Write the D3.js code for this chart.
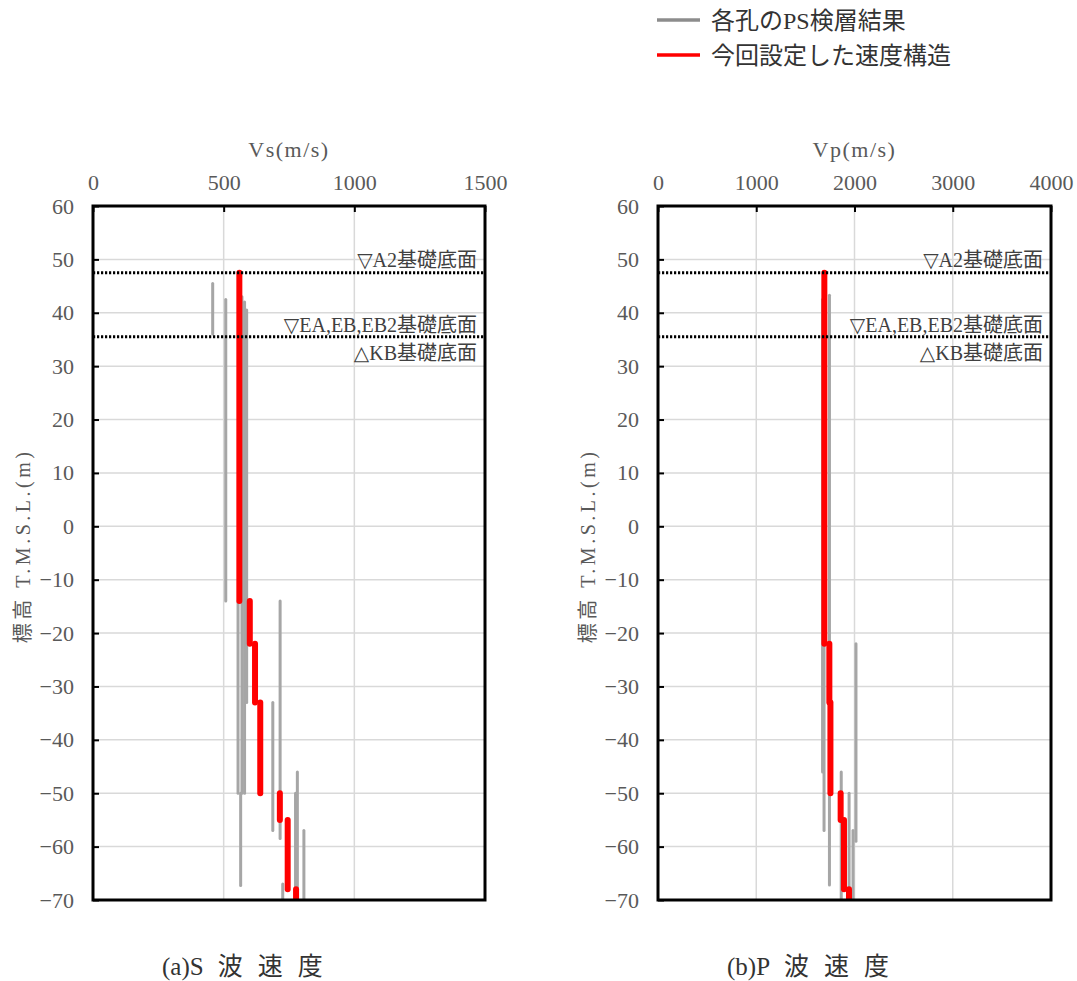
<!DOCTYPE html>
<html><head><meta charset="utf-8">
<script src="https://cdn.jsdelivr.net/npm/d3@7"></script>
<style>
body{margin:0;background:#fff;}
text{font-family:"Liberation Serif","DejaVu Serif","Noto Sans CJK JP",serif;}
</style></head>
<body>
<script>
// ---- data ----
const depthTicks = [60,50,40,30,20,10,0,-10,-20,-30,-40,-50,-60,-70];
const vsTicks = [0,500,1000,1500];
const vpTicks = [0,1000,2000,3000,4000];

// model (red) step profiles: velocity per layer, layer boundaries (elevation)
const vsModelVel = [560,600,620,640,715,745,777];
const vsModelBounds = [47.5,-14,-22,-33,-50,-55,-68,-70];
const vpModelVel = [1693,1744,1755,1859,1893,1944];
const vpModelBounds = [47.5,-22,-33,-50,-55,-68,-70];

// PS logging results (gray) : velocity, top, bottom
const vsLogVel = [458,508,555,570,580,588,565,688,716,726,775,782,807];
const vsLogTop = [45.5,42.5,-14,43,42,40.5,-50,-33,-14,-67,-50,-46,-57];
const vsLogBot = [36,-14,-50,-50,-50,-33,-67.3,-57,-58.5,-70,-70,-70,-70];
const vpLogVel = [1675,1690,1745,2015,1865,1945,1985];
const vpLogTop = [42.5,-22,43.3,-22,-46,-50,-57];
const vpLogBot = [-46,-57,-67.2,-59,-70,-70,-70];

const refLevels = [47.5,35.5];
const legendLabels = ["各孔のPS検層結果","今回設定した速度構造"];

// ---- drawing ----
const W=1077,H=981;
const svg=d3.select("body").append("svg").attr("width",W).attr("height",H);
svg.append("rect").attr("width",W).attr("height",H).attr("fill","#fff");

const pTop=206,pBot=900;
const y=d3.scaleLinear().domain([60,-70]).range([pTop,pBot]);

function panel(cfg){
  const x=d3.scaleLinear().domain([0,cfg.max]).range([cfg.left,cfg.right]);
  const g=svg.append("g");
  const clipId="clip"+cfg.id;
  svg.append("defs").append("clipPath").attr("id",clipId)
    .append("rect").attr("x",cfg.left).attr("y",pTop).attr("width",cfg.right-cfg.left).attr("height",pBot-pTop);
  // grid
  g.selectAll(".vg").data(cfg.ticks.slice(1,-1)).join("line")
    .attr("x1",d=>x(d)).attr("x2",d=>x(d)).attr("y1",pTop).attr("y2",pBot)
    .attr("stroke","#d9d9d9").attr("stroke-width",1.5);
  g.selectAll(".hg").data(depthTicks.slice(1,-1)).join("line")
    .attr("x1",cfg.left).attr("x2",cfg.right).attr("y1",d=>y(d)).attr("y2",d=>y(d))
    .attr("stroke","#d9d9d9").attr("stroke-width",1.5);
  // axes (ticks inward)
  const xa=d3.axisTop(x).tickValues(cfg.ticks).tickSize(-6).tickPadding(16).tickFormat(d3.format("d"));
  const ga=g.append("g").attr("transform",`translate(0,${pTop})`).call(xa);
  ga.select(".domain").remove();
  ga.selectAll("line").attr("stroke","#000").attr("stroke-width",2);
  ga.selectAll("text").attr("font-size",22).attr("fill","#595959").attr("dy","0");
  const ya=d3.axisLeft(y).tickValues(depthTicks).tickSize(-6).tickPadding(19);
  const gy=g.append("g").attr("transform",`translate(${cfg.left},0)`).call(ya);
  gy.select(".domain").remove();
  gy.selectAll("line").attr("stroke","#000").attr("stroke-width",2);
  gy.selectAll("text").attr("font-size",22).attr("fill","#595959").text(d=>d<0?"−"+Math.abs(d):d);
  // axis title
  g.append("text").attr("x",(cfg.left+cfg.right)/2).attr("y",157).attr("text-anchor","middle")
    .attr("font-size",22).attr("letter-spacing",1.5).attr("fill","#595959").text(cfg.title);
  g.append("text").attr("transform",`translate(${cfg.left-63},546) rotate(-90)`)
    .attr("text-anchor","middle").attr("font-size",20).attr("letter-spacing",3.5).attr("fill","#595959")
    .text("標高 T.M.S.L.(m)");
  // gray logs
  const pg=g.append("g").attr("clip-path",`url(#${clipId})`);
  pg.selectAll(".log").data(cfg.logVel.map((v,i)=>({v,t:cfg.logTop[i],b:cfg.logBot[i]}))).join("line")
    .attr("x1",d=>x(d.v)).attr("x2",d=>x(d.v)).attr("y1",d=>y(d.t)).attr("y2",d=>y(d.b))
    .attr("stroke","#a6a6a6").attr("stroke-width",3).attr("stroke-linecap","round");
  // red model: one vertical segment per layer
  pg.selectAll(".mdl").data(cfg.modelVel.map((v,i)=>({v,t:cfg.modelBounds[i],b:cfg.modelBounds[i+1]}))).join("line")
    .attr("x1",d=>x(d.v)).attr("x2",d=>x(d.v)).attr("y1",d=>y(d.t)).attr("y2",d=>y(d.b))
    .attr("stroke","#ff0000").attr("stroke-width",6).attr("stroke-linecap","round");
  // reference levels
  g.selectAll(".ref").data(refLevels).join("line")
    .attr("x1",cfg.left).attr("x2",cfg.right).attr("y1",d=>y(d)).attr("y2",d=>y(d))
    .attr("stroke","#000").attr("stroke-width",3).attr("stroke-dasharray","2.2,1.8");
  const ax=cfg.right-8;
  const ann=[{t:"▽A2基礎底面",yy:y(47.5)-6},{t:"▽EA,EB,EB2基礎底面",yy:y(35.5)-5},{t:"△KB基礎底面",yy:y(35.5)+23}];
  g.selectAll(".ann").data(ann).join("text").attr("x",ax).attr("y",d=>d.yy)
    .attr("text-anchor","end").attr("font-size",20).attr("fill","#404040").text(d=>d.t);
  // frame
  g.append("rect").attr("x",cfg.left).attr("y",pTop).attr("width",cfg.right-cfg.left).attr("height",pBot-pTop)
    .attr("fill","none").attr("stroke","#000").attr("stroke-width",3);
  // caption
  const cap=g.append("text").attr("x",cfg.left+69).attr("y",975).attr("font-size",25).attr("fill","#333");
  cap.append("tspan").text(cfg.capA);
  cap.append("tspan").attr("dx",14).attr("letter-spacing",15).text(cfg.capB);
}

panel({id:"s",left:93,right:485,max:1500,ticks:vsTicks,title:"Vs(m/s)",
  modelVel:vsModelVel,modelBounds:vsModelBounds,logVel:vsLogVel,logTop:vsLogTop,logBot:vsLogBot,
  capA:"(a)S",capB:"波速度"});
panel({id:"p",left:658,right:1051,max:4000,ticks:vpTicks,title:"Vp(m/s)",
  modelVel:vpModelVel,modelBounds:vpModelBounds,logVel:vpLogVel,logTop:vpLogTop,logBot:vpLogBot,
  capA:"(b)P",capB:"波速度"});

// legend
const lg=svg.append("g");
const lc=["#8c8c8c","#ff0000"];
legendLabels.forEach((t,i)=>{
  const yy=20+i*35;
  lg.append("line").attr("x1",657).attr("x2",700).attr("y1",yy).attr("y2",yy)
    .attr("stroke",lc[i]).attr("stroke-width",3.5);
  lg.append("text").attr("x",711).attr("y",yy+9).attr("font-size",24).attr("fill","#333").text(t);
});
</script>
</body></html>
